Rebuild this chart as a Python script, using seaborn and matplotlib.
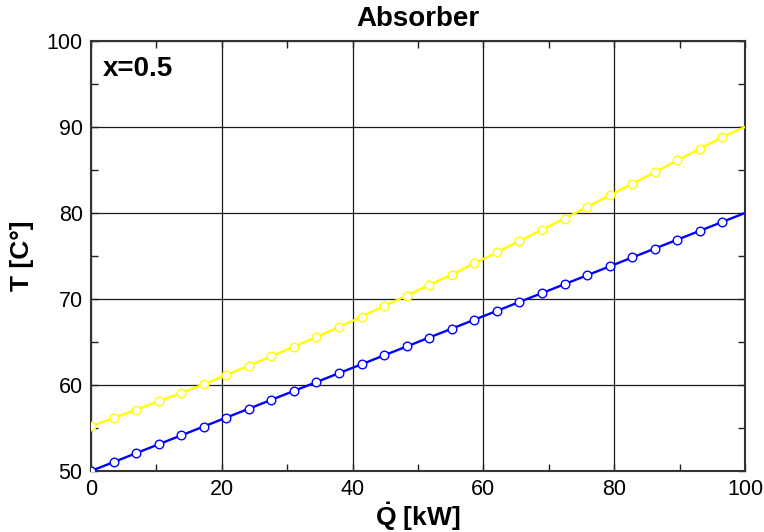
import matplotlib
matplotlib.use("Agg")
import matplotlib.pyplot as plt
from matplotlib.ticker import MultipleLocator
import numpy as np
import pandas as pd
import seaborn as sns

# heat duty Q [kW] at each computed point
q_kw = [0.0, 3.45, 6.9, 10.34, 13.79, 17.24, 20.69, 24.14, 27.59, 31.03,
        34.48, 37.93, 41.38, 44.83, 48.28, 51.72, 55.17, 58.62, 62.07, 65.52,
        68.97, 72.41, 75.86, 79.31, 82.76, 86.21, 89.66, 93.1, 96.55, 100.0]
# blue curve temperature [C]
t_blue = [50.0, 51.03, 52.07, 53.1, 54.14, 55.17, 56.21, 57.24, 58.28, 59.31,
          60.34, 61.38, 62.41, 63.45, 64.48, 65.52, 66.55, 67.59, 68.62, 69.66,
          70.69, 71.72, 72.76, 73.79, 74.83, 75.86, 76.9, 77.93, 78.97, 80.0]
# yellow curve temperature [C]
t_yellow = [55.2, 56.16, 57.13, 58.1, 59.07, 60.08, 61.16, 62.24, 63.34, 64.45,
            65.58, 66.74, 67.94, 69.19, 70.39, 71.63, 72.83, 74.15, 75.43, 76.74,
            78.06, 79.34, 80.7, 82.05, 83.41, 84.73, 86.13, 87.48, 88.84, 90.0]

df = pd.DataFrame({"Q": q_kw, "blue": t_blue, "yellow": t_yellow})

sns.set_theme(style="ticks")
plt.rcParams["font.family"] = ["Liberation Sans", "DejaVu Sans"]
plt.rcParams["mathtext.fontset"] = "custom"
plt.rcParams["mathtext.rm"] = "Liberation Sans"
plt.rcParams["mathtext.bf"] = "Liberation Sans:bold"
plt.rcParams["text.color"] = "black"
plt.rcParams["axes.labelcolor"] = "black"

fig = plt.figure(figsize=(7.64, 5.32), dpi=100)
ax = fig.add_axes([0.1191, 0.1147, 0.856, 0.8082])

n_mark = len(q_kw) - 1
for col, color in [("yellow", "#ffff00"), ("blue", "#0000ff")]:
    sns.lineplot(data=df, x="Q", y=col, ax=ax, color=color, linewidth=1.7,
                 marker="o", markersize=6.2, markerfacecolor="white",
                 markeredgecolor=color, markeredgewidth=1.0,
                 markevery=list(range(n_mark)), sort=False, zorder=3)

ax.set_xlim(0, 100)
ax.set_ylim(50, 100)
ax.xaxis.set_major_locator(MultipleLocator(20))
ax.xaxis.set_minor_locator(MultipleLocator(10))
ax.yaxis.set_major_locator(MultipleLocator(10))
ax.yaxis.set_minor_locator(MultipleLocator(5))
ax.grid(True, which="major", color="#1a1a1a", linewidth=0.9)
ax.tick_params(which="both", direction="in", top=True, right=True,
               colors="#222222", labelcolor="black", labelsize=15.5, pad=6)
ax.tick_params(which="major", length=5, width=1)
ax.tick_params(which="minor", length=5, width=1)
for s in ax.spines.values():
    s.set_color("#333333")
    s.set_linewidth(1.5)

ax.set_title("Absorber", fontsize=20, fontweight="bold", pad=11, color="black")
ax.set_xlabel(r"$\mathbf{\dot{Q}}$ [kW]", fontsize=19, fontweight="bold", labelpad=0)
ax.set_ylabel("T [C°]", fontsize=19, fontweight="bold", labelpad=9)
ax.text(0.018, 0.965, "x=0.5", transform=ax.transAxes, fontsize=20,
        fontweight="bold", ha="left", va="top")

fig.savefig("out.png", dpi=100)
